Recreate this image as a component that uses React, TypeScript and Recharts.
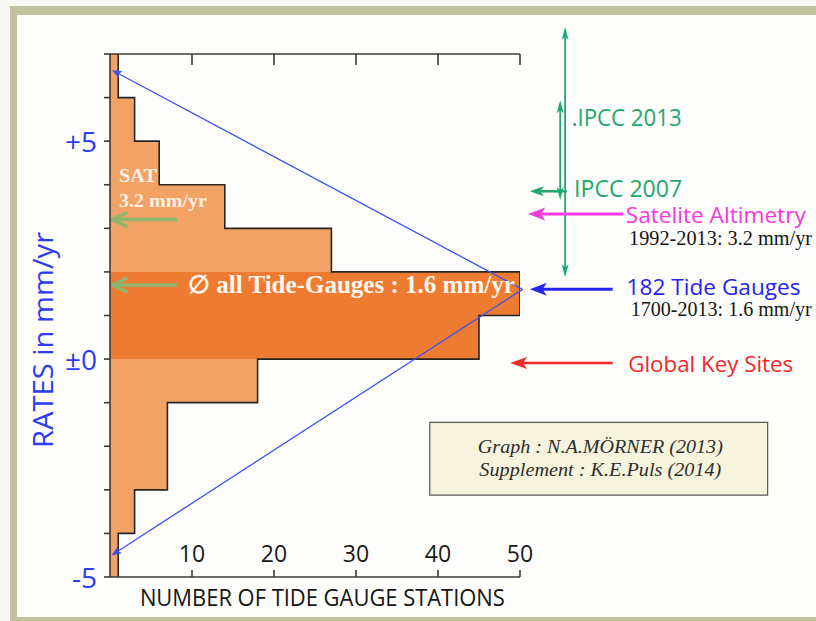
import React from 'react';
import {
  ComposedChart,
  Area,
  Line,
  XAxis,
  YAxis,
  ReferenceLine,
  ReferenceArea,
  ReferenceDot,
} from 'recharts';

// ---------------- data ----------------
// histogram bins (1 mm/yr wide), top edge of each bin in mm/yr
const rateBinTops = [7, 6, 5, 4, 3, 2, 1, 0, -1, -2, -3, -4];
// number of tide gauge stations per bin (sum = 182)
const stationCounts = [1, 3, 6, 14, 27, 50, 45, 18, 7, 7, 3, 1];
// bins highlighted in dark orange
const highlightedBinTops = [2, 1];
const binWidth = 1;

const xDomain = [0, 50];
const yDomain = [-5, 7];
const xTicks = [10, 20, 30, 40, 50];
const yTicks = [-5, -4, -3, -2, -1, 0, 1, 2, 3, 4, 5, 6, 7];
const yLabelValues = [5, 0, -5];
const yLabelTexts = ['+5', '±0', '-5'];

// reference rates (mm/yr)
const satRate = 3.2;
const gaugeMeanArrowRate = 1.7;
const triangleApex = { count: 50.3, rate: 1.6 };
const triangleTopEnd = { count: 0.25, rate: 6.63 };
const triangleBottomEnd = { count: 0.2, rate: -4.5 };
const ipcc2013Range = [1.88, 7.62];
const ipcc2007Range = [3.65, 5.94];
const ipcc2007Rate = 3.85;
const satelliteRate = 3.33;
const tideGaugeRate = 1.6;
const keySitesRate = -0.09;

// ---------------- derived step series ----------------
const toSteps = (tops: number[], counts: number[]) => [
  ...tops.map((t, i) => ({ rate: t, count: counts[i] })),
  { rate: tops[tops.length - 1] - binWidth, count: counts[counts.length - 1] },
];
const allSteps = toSteps(rateBinTops, stationCounts);
const hiIdx = rateBinTops
  .map((t, i) => (highlightedBinTops.includes(t) ? i : -1))
  .filter((i) => i >= 0);
const darkSteps = toSteps(
  hiIdx.map((i) => rateBinTops[i]),
  hiIdx.map((i) => stationCounts[i])
);

// ---------------- styles ----------------
const SANS = '"Open Sans", "DejaVu Sans", sans-serif';
const SERIF = '"Liberation Serif", "DejaVu Serif", serif';
const LIGHT = '#f3a266';
const DARK = '#ee7b32';
const AXIS = '#3a3a3a';
const BLUE_AX = '#2b3cf2';
const OLIVE = '#8fb56c';
const GREEN = '#22a86e';
const MAGENTA = '#f23ae0';
const BLUE = '#2424ee';
const RED = '#f02a2a';
const TRI_BLUE = '#3c50f0';
const FRAME = '#c2c29e';

// ---------------- shapes ----------------
type ArrowOpts = {
  color: string;
  width: number;
  head: number;
  headW: number;
  ends: ('start' | 'end')[];
  open?: boolean;
};

const arrowShape = (o: ArrowOpts) => (p: any) => {
  const { x1, y1, x2, y2 } = p;
  const heads: React.ReactNode[] = [];
  const dxAll = x2 - x1;
  const dyAll = y2 - y1;
  const L = Math.hypot(dxAll, dyAll) || 1;
  const ux = dxAll / L;
  const uy = dyAll / L;
  let lx1 = x1, ly1 = y1, lx2 = x2, ly2 = y2;
  o.ends.forEach((end, k) => {
    const sgn = end === 'end' ? 1 : -1;
    const tx = end === 'end' ? x2 : x1;
    const ty = end === 'end' ? y2 : y1;
    const dx = ux * sgn;
    const dy = uy * sgn;
    const bx = tx - dx * o.head;
    const by = ty - dy * o.head;
    const nx = -dy;
    const ny = dx;
    const ax = bx + (nx * o.headW) / 2;
    const ay = by + (ny * o.headW) / 2;
    const cx = bx - (nx * o.headW) / 2;
    const cy = by - (ny * o.headW) / 2;
    if (o.open) {
      heads.push(
        <polyline
          key={k}
          points={`${ax},${ay} ${tx},${ty} ${cx},${cy}`}
          fill="none"
          stroke={o.color}
          strokeWidth={o.width}
          strokeLinecap="round"
          strokeLinejoin="round"
        />
      );
    } else {
      const mx = tx - dx * o.head * 0.75;
      const my = ty - dy * o.head * 0.75;
      heads.push(
        <polygon
          key={k}
          points={`${ax},${ay} ${tx},${ty} ${cx},${cy} ${mx},${my}`}
          fill={o.color}
          stroke="none"
        />
      );
      if (end === 'end') {
        lx2 = tx - dx * o.head * 0.6;
        ly2 = ty - dy * o.head * 0.6;
      } else {
        lx1 = tx - dx * o.head * 0.6;
        ly1 = ty - dy * o.head * 0.6;
      }
    }
  });
  return (
    <g>
      <line x1={lx1} y1={ly1} x2={lx2} y2={ly2} stroke={o.color} strokeWidth={o.width} />
      {heads}
    </g>
  );
};

type TextSpec = {
  text: string;
  count: number;
  rate: number;
  font: string;
  size: number;
  color: string;
  len?: number;
  weight?: string;
  style?: string;
  anchor?: 'start' | 'middle' | 'end';
  rotate?: number;
};

const textShape = (t: TextSpec) => (p: any) => (
  <text
    x={p.cx}
    y={p.cy}
    textAnchor={t.anchor ?? 'start'}
    dominantBaseline="central"
    fontFamily={t.font}
    fontSize={t.size}
    fontWeight={t.weight ?? 'normal'}
    fontStyle={t.style ?? 'normal'}
    fill={t.color}
    textLength={t.len}
    lengthAdjust={t.len ? 'spacingAndGlyphs' : undefined}
    transform={t.rotate ? `rotate(${t.rotate} ${p.cx} ${p.cy})` : undefined}
  >
    {t.text}
  </text>
);

const XTick = (p: any) => (
  <text x={p.x} y={p.y} textAnchor="middle" fontFamily={SANS} fontSize={23} fill="#1a1a1a">
    {p.payload.value}
  </text>
);
const EmptyTick = () => <g />;
const YTick = (p: any) => {
  const i = yLabelValues.indexOf(p.payload.value);
  if (i < 0) return <g />;
  return (
    <text
      x={p.x - 1}
      y={p.y}
      textAnchor="end"
      dominantBaseline="central"
      fontFamily={SANS}
      fontSize={28}
      fill={BLUE_AX}
    >
      {yLabelTexts[i]}
    </text>
  );
};

// ---------------- annotations ----------------
const arrows: { from: [number, number]; to: [number, number]; opts: ArrowOpts }[] = [
  { from: [8.2, satRate], to: [0.25, satRate], opts: { color: OLIVE, width: 3.5, head: 14, headW: 13, ends: ['end'], open: true } },
  { from: [8.2, gaugeMeanArrowRate], to: [0.25, gaugeMeanArrowRate], opts: { color: OLIVE, width: 3.5, head: 14, headW: 13, ends: ['end'], open: true } },
  { from: [triangleApex.count, triangleApex.rate], to: [triangleTopEnd.count, triangleTopEnd.rate], opts: { color: TRI_BLUE, width: 1.3, head: 10, headW: 8, ends: ['end'] } },
  { from: [triangleApex.count, triangleApex.rate], to: [triangleBottomEnd.count, triangleBottomEnd.rate], opts: { color: TRI_BLUE, width: 1.3, head: 10, headW: 8, ends: ['end'] } },
  { from: [55.5, ipcc2013Range[0]], to: [55.5, ipcc2013Range[1]], opts: { color: GREEN, width: 1.8, head: 13, headW: 7, ends: ['start', 'end'] } },
  { from: [54.9, ipcc2007Range[0]], to: [54.9, ipcc2007Range[1]], opts: { color: GREEN, width: 1.8, head: 13, headW: 7, ends: ['start', 'end'] } },
  { from: [55.7, ipcc2007Rate], to: [51.2, ipcc2007Rate], opts: { color: GREEN, width: 2.5, head: 14, headW: 10, ends: ['end'] } },
  { from: [62.6, satelliteRate], to: [51.0, satelliteRate], opts: { color: MAGENTA, width: 3, head: 17, headW: 13, ends: ['end'] } },
  { from: [61.3, tideGaugeRate], to: [51.2, tideGaugeRate], opts: { color: BLUE, width: 3, head: 17, headW: 13, ends: ['end'] } },
  { from: [61.3, keySitesRate], to: [48.8, keySitesRate], opts: { color: RED, width: 2.5, head: 17, headW: 12, ends: ['end'] } },
];

const CREAM = '#fbf0e4';
const texts: TextSpec[] = [
  { text: 'SAT', count: 1.1, rate: 4.22, font: SERIF, size: 19, weight: 'bold', color: CREAM, len: 38 },
  { text: '3.2 mm/yr', count: 1.1, rate: 3.63, font: SERIF, size: 19, weight: 'bold', color: CREAM, len: 88 },
  { text: '∅ all Tide-Gauges : 1.6 mm/yr', count: 9.5, rate: 1.7, font: SERIF, size: 25, weight: 'bold', color: '#fff6ee', len: 327 },
  { text: '.IPCC 2013', count: 56.3, rate: 5.55, font: SANS, size: 23, color: GREEN, len: 110 },
  { text: 'IPCC 2007', count: 56.6, rate: 3.92, font: SANS, size: 23, color: GREEN, len: 108 },
  { text: 'Satelite Altimetry', count: 62.9, rate: 3.33, font: SANS, size: 22, color: MAGENTA, len: 180 },
  { text: '1992-2013: 3.2 mm/yr', count: 63.3, rate: 2.77, font: SERIF, size: 20, color: '#151515', len: 183 },
  { text: '182 Tide Gauges', count: 63.0, rate: 1.68, font: SANS, size: 22, color: BLUE, len: 174 },
  { text: '1700-2013: 1.6 mm/yr', count: 63.5, rate: 1.15, font: SERIF, size: 20, color: '#151515', len: 181 },
  { text: 'Global Key Sites', count: 63.2, rate: -0.09, font: SANS, size: 22, color: RED, len: 165 },
  { text: 'Graph :  N.A.MÖRNER (2013)', count: 59.8, rate: -2.02, font: SERIF, size: 18, style: 'italic', color: '#2e2e2e', len: 245, anchor: 'middle' },
  { text: 'Supplement : K.E.Puls (2014)', count: 59.8, rate: -2.55, font: SERIF, size: 18, style: 'italic', color: '#2e2e2e', len: 242, anchor: 'middle' },
  { text: 'NUMBER OF TIDE GAUGE STATIONS', count: 25.9, rate: -5.44, font: SANS, size: 24, color: '#151515', len: 365, anchor: 'middle' },
  { text: 'RATES in mm/yr', count: -8.2, rate: 0.44, font: SANS, size: 27, color: BLUE_AX, len: 216, anchor: 'middle', rotate: -90 },
];

const creditBox = { x1: 39, x2: 80.2, y1: -1.45, y2: -3.12 };

export default function App() {
  React.useLayoutEffect(() => {
    document.documentElement.style.overflow = 'hidden';
    document.body.style.margin = '0';
    document.body.style.overflow = 'hidden';
  }, []);
  return (
    <div style={{ position: 'fixed', left: 0, top: 0, width: 816, height: 621, background: '#fdfdfb', overflow: 'hidden' }}>
      <div style={{ position: 'absolute', left: 0, top: 0, width: 816, height: 6, background: '#f8f8f3' }} />
      <div style={{ position: 'absolute', left: 0, top: 0, width: 10, height: 621, background: '#f8f8f3' }} />
      <div style={{ position: 'absolute', left: 10, top: 6, width: 806, height: 9, background: FRAME }} />
      <div style={{ position: 'absolute', left: 10, top: 6, width: 7, height: 615, background: FRAME }} />
      <div style={{ position: 'absolute', left: 10, top: 617, width: 806, height: 4, background: FRAME }} />
      <div style={{ position: 'absolute', left: 0, top: 0 }}>
        <ComposedChart
          layout="vertical"
          width={816}
          height={621}
          margin={{ top: 54, right: 296, bottom: 44, left: 0 }}
        >
          <XAxis
            type="number"
            domain={xDomain}
            ticks={xTicks}
            allowDataOverflow
            mirror
            tickSize={7}
            tickMargin={8}
            axisLine={{ stroke: AXIS, strokeWidth: 1.6 }}
            tickLine={{ stroke: AXIS, strokeWidth: 1.6 }}
            tick={XTick}
          />
          <XAxis
            xAxisId="top"
            orientation="top"
            type="number"
            domain={xDomain}
            ticks={xTicks}
            allowDataOverflow
            mirror
            tickSize={11}
            axisLine={{ stroke: AXIS, strokeWidth: 1.6 }}
            tickLine={{ stroke: AXIS, strokeWidth: 1.6 }}
            tick={EmptyTick}
          />
          <YAxis
            type="number"
            dataKey="rate"
            domain={yDomain}
            ticks={yTicks}
            interval={0}
            allowDataOverflow
            reversed
            width={110}
            tickSize={6}
            tickMargin={6}
            axisLine={{ stroke: AXIS, strokeWidth: 1.6 }}
            tickLine={{ stroke: AXIS, strokeWidth: 1.6 }}
            tick={YTick}
          />
          <Area
            data={allSteps}
            dataKey="count"
            type="stepBefore"
            baseValue={0}
            fill={LIGHT}
            fillOpacity={1}
            stroke="none"
            dot={false}
            activeDot={false}
            isAnimationActive={false}
          />
          <Area
            data={darkSteps}
            dataKey="count"
            type="stepBefore"
            baseValue={0}
            fill={DARK}
            fillOpacity={1}
            stroke="none"
            dot={false}
            activeDot={false}
            isAnimationActive={false}
          />
          <Line
            data={allSteps}
            dataKey="count"
            type="stepBefore"
            stroke="#262626"
            strokeWidth={1.6}
            dot={false}
            activeDot={false}
            isAnimationActive={false}
          />
          <ReferenceArea
            x1={creditBox.x1}
            x2={creditBox.x2}
            y1={creditBox.y1}
            y2={creditBox.y2}
            fill="#f6f4dc"
            fillOpacity={1}
            stroke="#5a5a5a"
            strokeWidth={1.2}
            ifOverflow="visible"
          />
          {arrows.map((a, i) => (
            <ReferenceLine
              key={`a${i}`}
              segment={[
                { x: a.from[0], y: a.from[1] },
                { x: a.to[0], y: a.to[1] },
              ]}
              ifOverflow="visible"
              shape={arrowShape(a.opts)}
            />
          ))}
          {texts.map((t, i) => (
            <ReferenceDot
              key={`t${i}`}
              x={t.count}
              y={t.rate}
              r={1}
              ifOverflow="visible"
              shape={textShape(t)}
            />
          ))}
        </ComposedChart>
      </div>
    </div>
  );
}
